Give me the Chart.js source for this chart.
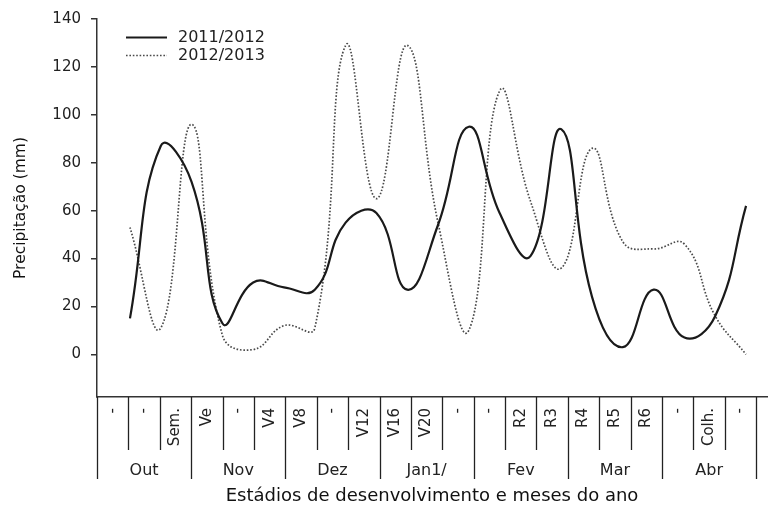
<!DOCTYPE html>
<html>
<head>
<meta charset="utf-8">
<script src="https://cdn.jsdelivr.net/npm/chart.js@4.4.0/dist/chart.umd.min.js"></script>
<style>
  html, body { margin: 0; padding: 0; background: #fff; }
</style>
</head>
<body>
<canvas id="precipChart" width="770" height="515"></canvas>
<script>
// growth stages (one per point) and the months they fall in (3 stages each)
const stages = ['-', '-', 'Sem.', 'Ve', '-', 'V4', 'V8', '-', 'V12', 'V16', 'V20',
                '-', '-', 'R2', 'R3', 'R4', 'R5', 'R6', '-', 'Colh.', '-'];
const months = ['Out', 'Nov', 'Dez', 'Jan1/', 'Fev', 'Mar', 'Abr'];

// precipitation (mm)
const rain2011 = [15, 87, 72, 13, 30, 28, 27, 55, 59, 27, 54, 95, 59, 41, 94, 24, 3, 27, 7, 16, 62];
const rain2012 = [53, 11, 96, 8, 2, 12, 11, 129, 65, 129, 55, 10, 110, 64, 36, 86, 47, 44, 46, 16, 0];

const yTicks = [0, 20, 40, 60, 80, 100, 120, 140];

const FONT = '"DejaVu Sans", sans-serif';
const TABLE_END = 20.33;   // right edge of the stage table, in x units

const stageTable = {
    id: 'stageTable',
    afterDraw(chart) {
        const { ctx, chartArea, scales: { x } } = chart;
        const left = chartArea.left;
        const right = x.getPixelForValue(TABLE_END);
        const colW = (right - left) / stages.length;
        const top = chartArea.bottom;

        ctx.save();
        ctx.strokeStyle = '#222';
        ctx.lineWidth = 1.3;
        for (let k = 0; k <= stages.length; k++) {
            const px = Math.round(left + k * colW) + 0.5;
            const len = (k % 3 === 0) ? 82 : 53;
            ctx.beginPath();
            ctx.moveTo(px, top);
            ctx.lineTo(px, top + len);
            ctx.stroke();
        }

        ctx.fillStyle = '#222';
        ctx.font = '15px ' + FONT;
        ctx.textAlign = 'right';
        ctx.textBaseline = 'middle';
        stages.forEach((s, k) => {
            ctx.save();
            ctx.translate(left + (k + 0.5) * colW, top + 11);
            ctx.rotate(-Math.PI / 2);
            ctx.fillText(s, 0, 0);
            ctx.restore();
        });

        ctx.font = '16px ' + FONT;
        ctx.textAlign = 'center';
        ctx.textBaseline = 'alphabetic';
        months.forEach((m, j) => {
            ctx.fillText(m, left + (j * 3 + 1.5) * colW, top + 78);
        });

        // legend, top left inside the plot
        chart.data.datasets.forEach((ds, i) => {
            const ly = 37.5 + i * 18;
            ctx.strokeStyle = ds.borderColor;
            ctx.lineWidth = ds.borderWidth;
            ctx.setLineDash(ds.borderDash || []);
            ctx.beginPath();
            ctx.moveTo(left + 29, ly);
            ctx.lineTo(left + 70, ly);
            ctx.stroke();
            ctx.setLineDash([]);
            ctx.fillStyle = '#222';
            ctx.textAlign = 'left';
            ctx.textBaseline = 'middle';
            ctx.fillText(ds.label, left + 81, ly);
        });
        ctx.restore();
    }
};

const ctx = document.getElementById('precipChart');
new Chart(ctx, {
    type: 'line',
    data: {
        datasets: [{
            label: '2011/2012',
            data: rain2011.map((v, i) => ({ x: i, y: v })),
            borderColor: '#1a1a1a',
            borderWidth: 2.2,
            pointRadius: 0,
            tension: 0.45,
            fill: false
        }, {
            label: '2012/2013',
            data: rain2012.map((v, i) => ({ x: i, y: v })),
            borderColor: '#4a4a4a',
            borderWidth: 1.7,
            borderDash: [1.6, 1.8],
            pointRadius: 0,
            tension: 0.45,
            fill: false
        }]
    },
    options: {
        responsive: false,
        animation: false,
        layout: { padding: { top: 19, right: 3, left: 0, bottom: 0 } },
        plugins: {
            legend: { display: false },
            tooltip: { enabled: false }
        },
        scales: {
            x: {
                type: 'linear',
                min: -1.07,
                max: 20.68,
                ticks: { display: false },
                grid: { display: false },
                border: { color: '#333', width: 1.5 },
                title: {
                    display: true,
                    text: 'Estádios de desenvolvimento e meses do ano',
                    color: '#111',
                    font: { family: FONT, size: 18 },
                    padding: { top: 0, bottom: 8 }
                },
                afterFit: (scale) => { scale.height = 118; }
            },
            y: {
                type: 'linear',
                min: -17.8,
                max: 140,
                afterBuildTicks: (scale) => { scale.ticks = yTicks.map(v => ({ value: v })); },
                ticks: { color: '#222', font: { family: FONT, size: 15 }, padding: 10 },
                grid: {
                    display: true,
                    drawOnChartArea: false,
                    drawTicks: true,
                    tickLength: 6,
                    color: '#333',
                    lineWidth: 1.5
                },
                border: { color: '#333', width: 1.5 },
                title: {
                    display: true,
                    text: 'Precipitação (mm)',
                    color: '#111',
                    font: { family: FONT, size: 15.5 },
                    padding: { top: 12, bottom: 0 }
                },
                afterFit: (scale) => { scale.width = 97; }
            }
        }
    },
    plugins: [stageTable]
});
</script>
</body>
</html>
